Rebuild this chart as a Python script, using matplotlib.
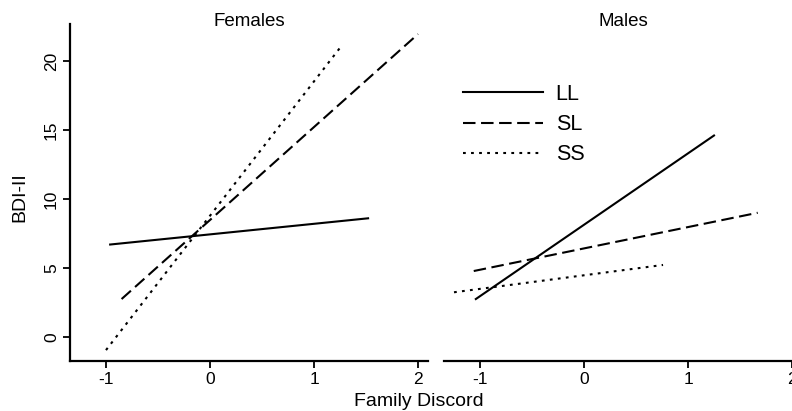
import numpy as np
import matplotlib
matplotlib.use("Agg")
import matplotlib.pyplot as plt

plt.rcParams['font.family'] = ['Liberation Sans', 'DejaVu Sans']
plt.rcParams['lines.scale_dashes'] = False

# fitted simple slopes, start and end points per genotype group
groups = ["LL", "SL", "SS"]
fem_x = {"LL": [-0.96, 1.52], "SL": [-0.85, 2.0], "SS": [-1.0, 1.27]}
fem_y = {"LL": [6.7, 8.6], "SL": [2.75, 21.95], "SS": [-0.95, 21.15]}
male_x = {"LL": [-1.04, 1.25], "SL": [-1.06, 1.67], "SS": [-1.25, 0.76]}
male_y = {"LL": [2.75, 14.6], "SL": [4.78, 9.0], "SS": [3.24, 5.22]}

xticks = [-1, 0, 1, 2]
yticks = [0, 5, 10, 15, 20]

styles = {"LL": dict(linestyle="-"),
          "SL": dict(dashes=(9, 4)),
          "SS": dict(dashes=(2, 3.8))}

W, H = 792, 411
fig = plt.figure(figsize=(W / 100, H / 100), dpi=100)
ax1 = fig.add_axes([70 / W, 1 - 361 / H, 358 / W, 337 / H])
ax2 = fig.add_axes([444 / W, 1 - 361 / H, 358 / W, 337 / H])

for ax, xs, ys in [(ax1, fem_x, fem_y), (ax2, male_x, male_y)]:
    for g in groups:
        ax.plot(xs[g], ys[g], color="black", lw=1.5, label=g, **styles[g])
    ax.set_xlim(-1.346, 2.096)
    ax.set_ylim(-1.74, 22.68)
    ax.set_xticks(xticks)
    ax.set_xticklabels([str(t) for t in xticks], fontsize=12.5)
    for s in ["top", "right"]:
        ax.spines[s].set_visible(False)
    ax.spines["bottom"].set_linewidth(1.6)
    ax.spines["left"].set_linewidth(1.6)
    ax.tick_params(length=5, width=1.3, pad=3)

ax1.set_yticks(yticks)
ax1.set_yticklabels([str(t) for t in yticks], fontsize=12.5, rotation=90, va="center")
ax2.spines["left"].set_visible(False)
ax2.set_yticks([])

fig.text(249 / W, 1 - 22 / H, "Females", ha="center", va="center", fontsize=13.5)
fig.text(623 / W, 1 - 22 / H, "Males", ha="center", va="center", fontsize=13.5)
fig.text(419 / W, 1 - 401 / H, "Family Discord", ha="center", va="center", fontsize=14)
fig.text(20 / W, 1 - 197 / H, "BDI-II", ha="center", va="center", rotation=90, fontsize=14)

ax2.legend(loc="upper left", bbox_to_anchor=(463 / W, 1 - 84 / H),
           bbox_transform=fig.transFigure, frameon=False, fontsize=15.5,
           handlelength=3.7, handletextpad=0.6, labelspacing=0.42,
           borderpad=0, borderaxespad=0)

fig.savefig("out.png", dpi=100)
